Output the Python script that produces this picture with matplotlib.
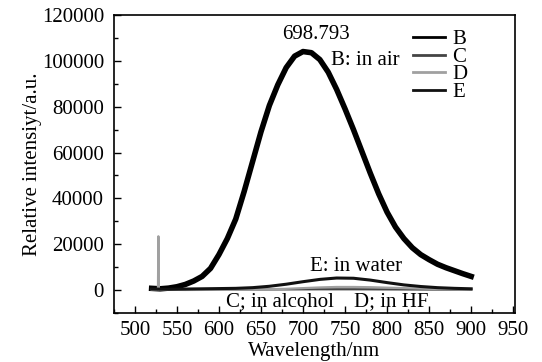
import numpy as np
import matplotlib
matplotlib.use("Agg")
from matplotlib import pyplot as plt
from matplotlib.ticker import MultipleLocator

plt.rcParams['font.family'] = ['Liberation Serif', 'DejaVu Serif']

# B: in air
wl_b = [520, 530, 540, 550, 560, 570, 580, 590, 600, 610, 620, 630, 640, 650,
        660, 670, 680, 690, 700, 710, 720, 730, 740, 750, 760, 770, 780, 790,
        800, 810, 820, 830, 840, 850, 860, 870, 880, 890, 900]
b_air = [800, 600, 900, 1500, 2500, 4000, 6000, 9500, 15500, 22500, 31000, 43000,
         56000, 69000, 80500, 89500, 97000, 102000, 104000, 103500, 100500, 95000,
         87500, 79000, 70000, 60500, 51000, 42000, 34000, 27500, 22500, 18500,
         15500, 13300, 11300, 9800, 8500, 7200, 6000]

# C: in alcohol
wl_c = [520, 560, 600, 640, 680, 720, 760, 800, 840, 880, 900]
c_alcohol = [300, 200, 250, 300, 350, 400, 400, 350, 300, 250, 250]

# D: in HF (with the narrow line near 528 nm)
wl_d = [520, 526, 527.5, 528, 528.5, 530, 560, 600, 640, 680, 700, 720, 740,
        760, 780, 800, 820, 840, 860, 880, 900]
d_hf = [200, 200, 300, 23500, 300, 200, 100, 150, 250, 600, 900, 1200, 1400,
        1400, 1300, 1100, 900, 700, 500, 400, 300]

# E: in water
wl_e = [520, 540, 560, 580, 600, 620, 640, 660, 680, 700, 720, 740, 760, 780,
        800, 820, 840, 860, 880, 900]
e_water = [500, 400, 500, 600, 700, 800, 1100, 1700, 2600, 3700, 4700, 5300,
           5200, 4400, 3300, 2300, 1600, 1100, 800, 600]

fig = plt.figure(figsize=(5.42, 3.62), dpi=100)
ax = fig.add_axes([0.210, 0.135, 0.740, 0.824])

ax.plot(wl_b, b_air, color='black', lw=4.0, label='B', solid_joinstyle='round')
ax.plot(wl_c, c_alcohol, color='#444444', lw=1.6, label='C')
ax.plot(wl_d, d_hf, color='#a0a0a0', lw=1.6, label='D')
ax.plot(wl_e, e_water, color='#111111', lw=2.2, label='E')

ax.set_xlim(475, 952)
ax.set_ylim(-10000, 120000)
ax.xaxis.set_major_locator(MultipleLocator(50))
ax.xaxis.set_minor_locator(MultipleLocator(25))
ax.yaxis.set_major_locator(MultipleLocator(20000))
ax.yaxis.set_minor_locator(MultipleLocator(10000))
ax.tick_params(which='both', direction='in', top=False, right=False, labelsize=15)
ax.tick_params(which='major', length=5, width=1)
ax.tick_params(which='minor', length=3, width=1)
ax.tick_params(axis='y', which='major', pad=7)
ax.tick_params(axis='x', which='major', pad=6)
for s in ax.spines.values():
    s.set_linewidth(1.2)

ax.set_xlabel('Wavelength/nm', fontsize=15, labelpad=1)
ax.set_ylabel('Relative intensiyt/a.u.', fontsize=15, labelpad=0)

ax.text(715, 111300, '698.793', fontsize=15, ha='center', va='center')
ax.text(733, 100000, 'B: in air', fontsize=15, ha='left', va='center')
ax.text(763, 10500, 'E: in water', fontsize=15, ha='center', va='center')
ax.text(672, -5200, 'C; in alcohol', fontsize=15, ha='center', va='center')
ax.text(805, -5200, 'D; in HF', fontsize=15, ha='center', va='center')

leg = ax.legend(loc='upper left', bbox_to_anchor=(0.745, 0.95), frameon=False,
                fontsize=15, handlelength=1.55, handletextpad=0.35,
                labelspacing=-0.1, borderpad=0, borderaxespad=0)
for h in leg.legend_handles:
    h.set_linewidth(2.0)

fig.savefig('out.png', dpi=100)
